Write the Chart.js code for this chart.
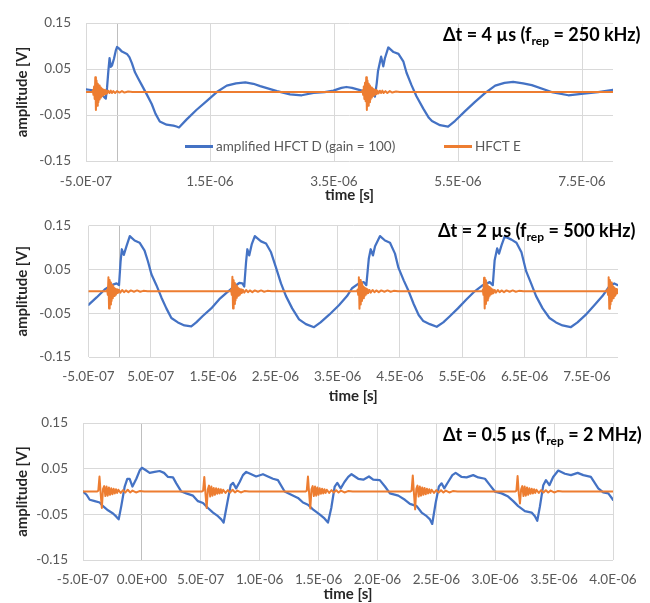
<!DOCTYPE html>
<html><head><meta charset="utf-8">
<script src="https://cdn.jsdelivr.net/npm/chart.js@4.4.1/dist/chart.umd.min.js"></script>
<style>
body{margin:0;background:#fff;}
#wrap{position:relative;width:650px;height:603px;overflow:hidden;font-family:Lato,"Liberation Sans",sans-serif;}
canvas{position:absolute;left:0;}
.ann{position:absolute;font-weight:bold;font-size:18px;line-height:20px;white-space:nowrap;color:#000;}
.ann sub{font-size:12px;vertical-align:-4px;line-height:0;}
.leg{position:absolute;font-size:13.5px;color:#595959;white-space:nowrap;line-height:16px;}
.leg span{display:inline-block;width:28px;height:2.5px;vertical-align:middle;margin-right:3px;position:relative;top:-1px;}
</style>
</head><body>
<div id="wrap">
<canvas id="c1" width="650" height="205" style="top:0px"></canvas>
<canvas id="c2" width="650" height="205" style="top:200px"></canvas>
<canvas id="c3" width="650" height="203" style="top:400px"></canvas>
<div class="ann" style="left:443px;top:24px">Δt = 4 µs (f<sub>rep</sub> = 250 kHz)</div>
<div class="ann" style="left:438px;top:220px">Δt = 2 µs (f<sub>rep</sub> = 500 kHz)</div>
<div class="ann" style="left:443px;top:424px">Δt = 0.5 µs (f<sub>rep</sub> = 2 MHz)</div>
<div class="leg" style="left:185px;top:138px"><span style="background:#4472C4"></span>amplified HFCT D (gain = 100)</div>
<div class="leg" style="left:444px;top:138px"><span style="background:#ED7D31"></span>HFCT E</div>
</div>
<script>
// ---- data: time in microseconds, amplitude in volts ----
const seriesNames = ["amplified HFCT D (gain = 100)", "HFCT E"];
const yTicks = [-0.15, -0.05, 0.05, 0.15];
const yLabels = ["-0.15", "-0.05", "0.05", "0.15"];

const xTicks1 = [-0.5, 0, 1.5, 3.5, 5.5, 7.5];
const xLabels1 = ["-5.0E-07", "", "1.5E-06", "3.5E-06", "5.5E-06", "7.5E-06"];
const xTicks2 = [-0.5, 0, 0.5, 1.5, 2.5, 3.5, 4.5, 5.5, 6.5, 7.5];
const xLabels2 = ["-5.0E-07", "", "5.0E-07", "1.5E-06", "2.5E-06", "3.5E-06", "4.5E-06", "5.5E-06", "6.5E-06", "7.5E-06"];
const xTicks3 = [-0.5, 0, 0.5, 1.0, 1.5, 2.0, 2.5, 3.0, 3.5, 4.0];
const xLabels3 = ["-5.0E-07", "0.0E+00", "5.0E-07", "1.0E-06", "1.5E-06", "2.0E-06", "2.5E-06", "3.0E-06", "3.5E-06", "4.0E-06"];

const blue1 = [[-0.5,0.006],[-0.45,0.005],[-0.36,0.003],[-0.25,-0.005],[-0.2,-0.012],[-0.18,-0.014],[-0.16,0.010],[-0.14,0.045],[-0.12,0.074],[-0.1,0.055],[-0.08,0.058],[-0.05,0.072],[-0.02,0.090],[0,0.098],[0.03,0.095],[0.08,0.088],[0.16,0.083],[0.2,0.076],[0.24,0.063],[0.29,0.043],[0.34,0.030],[0.4,0.015],[0.48,-0.005],[0.56,-0.026],[0.62,-0.047],[0.69,-0.064],[0.8,-0.071],[0.91,-0.073],[0.96,-0.075],[1.0,-0.077],[1.12,-0.060],[1.28,-0.039],[1.45,-0.019],[1.61,0.0],[1.77,0.014],[1.92,0.019],[2.07,0.021],[2.2,0.018],[2.31,0.013],[2.58,0.002],[2.79,-0.005],[2.98,-0.007],[3.17,-0.002],[3.35,0.0],[3.49,0.003],[3.62,0.009],[3.7,0.011],[3.79,0.009],[3.95,0.003],[4.11,-0.002],[4.14,-0.006],[4.16,-0.010],[4.19,0.020],[4.21,0.046],[4.26,0.077],[4.295,0.056],[4.32,0.073],[4.376,0.097],[4.46,0.087],[4.54,0.083],[4.62,0.066],[4.67,0.042],[4.75,0.015],[4.83,-0.009],[4.94,-0.036],[5.03,-0.056],[5.08,-0.063],[5.21,-0.072],[5.34,-0.075],[5.45,-0.063],[5.61,-0.042],[5.77,-0.022],[5.94,-0.002],[6.1,0.014],[6.25,0.020],[6.39,0.022],[6.55,0.019],[6.69,0.015],[7.01,0.0],[7.28,-0.007],[7.49,-0.004],[7.76,0.0],[8.0,0.005]];

const orange1 = [[-0.5,0],[-0.4,0],[-0.39,0.004],[-0.38,-0.006],[-0.37,0.012],[-0.36,-0.015],[-0.35,0.032],[-0.34,-0.039],[-0.33,0.025],[-0.32,-0.030],[-0.31,0.018],[-0.3,-0.022],[-0.29,0.014],[-0.28,-0.016],[-0.27,0.010],[-0.26,-0.012],[-0.25,0.008],[-0.24,-0.008],[-0.23,0.006],[-0.22,-0.006],[-0.21,0.005],[-0.2,-0.005],[-0.19,0.004],[-0.18,-0.004],[-0.17,0.003],[-0.16,-0.003],[-0.14,0.003],[-0.12,-0.002],[-0.1,0.003],[-0.08,-0.002],[-0.06,0.002],[-0.03,-0.002],[0,0.002],[0.04,-0.001],[0.08,0.002],[0.12,-0.001],[0.18,0.001],[0.25,0],[3.95,0],[3.96,0.004],[3.97,-0.006],[3.98,0.012],[3.99,-0.015],[4.0,0.020],[4.01,-0.020],[4.02,0.032],[4.03,-0.039],[4.04,0.025],[4.05,-0.030],[4.06,0.018],[4.07,-0.022],[4.08,0.014],[4.09,-0.016],[4.1,0.010],[4.11,-0.012],[4.12,0.008],[4.13,-0.008],[4.14,0.006],[4.15,-0.006],[4.16,0.005],[4.17,-0.005],[4.18,0.004],[4.19,-0.004],[4.2,0.003],[4.22,-0.003],[4.24,0.003],[4.26,-0.002],[4.28,0.003],[4.3,-0.002],[4.33,0.002],[4.36,-0.002],[4.4,0.002],[4.44,-0.001],[4.5,0.001],[4.56,0],[8.0,0]];

const blue2 = [[-0.5,-0.031],[-0.37,-0.014],[-0.24,0.004],[-0.13,0.014],[-0.05,0.018],[-0.01,0.014],[0.015,0.068],[0.035,0.096],[0.067,0.083],[0.11,0.103],[0.163,0.126],[0.24,0.116],[0.32,0.111],[0.4,0.093],[0.455,0.068],[0.51,0.039],[0.59,0.014],[0.67,-0.014],[0.75,-0.039],[0.83,-0.061],[0.935,-0.071],[1.04,-0.078],[1.15,-0.080],[1.23,-0.071],[1.33,-0.057],[1.47,-0.039],[1.6,-0.018],[1.71,-0.004],[1.84,0.011],[1.92,0.019],[1.97,0.018],[2.0,0.011],[2.03,0.068],[2.05,0.096],[2.08,0.082],[2.12,0.107],[2.17,0.126],[2.27,0.114],[2.35,0.109],[2.43,0.089],[2.51,0.054],[2.59,0.018],[2.67,-0.011],[2.77,-0.039],[2.88,-0.064],[2.99,-0.075],[3.12,-0.082],[3.225,-0.071],[3.36,-0.054],[3.52,-0.032],[3.65,-0.011],[3.73,0.007],[3.84,0.018],[3.92,0.021],[3.96,0.014],[4.0,0.075],[4.03,0.096],[4.066,0.082],[4.1,0.103],[4.18,0.126],[4.26,0.116],[4.34,0.111],[4.42,0.086],[4.475,0.054],[4.56,0.025],[4.64,0.0],[4.72,-0.029],[4.8,-0.054],[4.875,-0.068],[4.98,-0.075],[5.09,-0.081],[5.195,-0.071],[5.3,-0.057],[5.43,-0.039],[5.57,-0.018],[5.7,0.0],[5.83,0.014],[5.94,0.021],[5.99,0.014],[6.02,0.071],[6.06,0.098],[6.09,0.086],[6.13,0.105],[6.18,0.125],[6.29,0.118],[6.37,0.111],[6.45,0.089],[6.525,0.046],[6.605,0.018],[6.685,-0.011],[6.79,-0.039],[6.9,-0.061],[7.005,-0.071],[7.11,-0.078],[7.24,-0.082],[7.35,-0.071],[7.48,-0.054],[7.62,-0.032],[7.75,-0.011],[7.86,0.011],[7.94,0.018],[8.0,0.014]];

const orange2 = [[-0.5,0],[-0.21,0],[-0.2,0.004],[-0.19,-0.008],[-0.18,0.032],[-0.17,-0.039],[-0.16,0.026],[-0.15,-0.030],[-0.14,0.020],[-0.13,-0.022],[-0.12,0.014],[-0.11,-0.016],[-0.1,0.010],[-0.09,-0.011],[-0.08,0.007],[-0.07,-0.008],[-0.06,0.005],[-0.05,-0.005],[-0.04,0.004],[-0.03,-0.004],[-0.01,0.003],[0.01,-0.003],[0.04,0.003],[0.07,-0.002],[0.1,0.002],[0.14,-0.002],[0.18,0.002],[0.23,-0.001],[0.28,0.002],[0.33,-0.001],[0.38,0.001],[0.45,0],[1.78,0],[1.79,0.004],[1.8,-0.008],[1.81,0.033],[1.82,-0.039],[1.83,0.025],[1.84,-0.029],[1.85,0.019],[1.86,-0.021],[1.87,0.013],[1.88,-0.015],[1.89,0.010],[1.9,-0.010],[1.91,0.007],[1.92,-0.008],[1.93,0.005],[1.94,-0.005],[1.95,0.004],[1.96,-0.004],[1.98,0.003],[2.0,-0.003],[2.03,0.003],[2.06,-0.002],[2.09,0.002],[2.13,-0.002],[2.17,0.002],[2.22,-0.001],[2.27,0.002],[2.32,-0.001],[2.37,0.001],[2.44,0],[3.81,0],[3.82,0.004],[3.83,-0.008],[3.84,0.032],[3.85,-0.040],[3.86,0.026],[3.87,-0.030],[3.88,0.020],[3.89,-0.022],[3.9,0.014],[3.91,-0.016],[3.92,0.010],[3.93,-0.011],[3.94,0.007],[3.95,-0.008],[3.96,0.005],[3.97,-0.005],[3.98,0.004],[3.99,-0.004],[4.01,0.003],[4.03,-0.003],[4.06,0.003],[4.09,-0.002],[4.12,0.002],[4.16,-0.002],[4.2,0.002],[4.25,-0.001],[4.3,0.002],[4.35,-0.001],[4.4,0.001],[4.47,0],[5.82,0],[5.83,0.004],[5.84,-0.008],[5.85,0.031],[5.86,-0.039],[5.87,0.025],[5.88,-0.029],[5.89,0.019],[5.9,-0.021],[5.91,0.013],[5.92,-0.015],[5.93,0.010],[5.94,-0.010],[5.95,0.007],[5.96,-0.007],[5.97,0.005],[5.98,-0.005],[5.99,0.004],[6.0,-0.004],[6.02,0.003],[6.04,-0.003],[6.07,0.003],[6.1,-0.002],[6.13,0.002],[6.17,-0.002],[6.21,0.002],[6.26,-0.001],[6.31,0.002],[6.36,-0.001],[6.41,0.001],[6.48,0],[7.82,0],[7.83,0.004],[7.84,-0.008],[7.85,0.032],[7.86,-0.040],[7.87,0.026],[7.88,-0.030],[7.89,0.020],[7.9,-0.022],[7.91,0.014],[7.92,-0.016],[7.93,0.010],[7.94,-0.011],[7.95,0.007],[7.96,-0.008],[7.97,0.005],[7.98,-0.005],[7.99,0.004],[8.0,-0.004]];

const blue3 = [[-0.5,0.0],[-0.47,-0.007],[-0.443,-0.018],[-0.4,-0.021],[-0.358,-0.024],[-0.33,-0.032],[-0.288,-0.041],[-0.245,-0.048],[-0.217,-0.055],[-0.197,-0.061],[-0.175,-0.032],[-0.146,0.011],[-0.124,0.028],[-0.104,0.028],[-0.08,0.011],[-0.047,0.028],[-0.019,0.046],[0.0,0.052],[0.037,0.046],[0.066,0.041],[0.108,0.043],[0.151,0.045],[0.188,0.041],[0.222,0.032],[0.264,0.031],[0.292,0.018],[0.335,0.0],[0.377,-0.004],[0.434,-0.009],[0.476,-0.021],[0.519,-0.025],[0.561,-0.036],[0.604,-0.046],[0.646,-0.054],[0.674,-0.061],[0.694,-0.068],[0.725,-0.025],[0.754,0.014],[0.774,0.019],[0.8,0.007],[0.83,0.021],[0.858,0.036],[0.886,0.043],[0.929,0.038],[0.97,0.033],[1.028,0.038],[1.07,0.033],[1.113,0.028],[1.155,0.025],[1.212,0.0],[1.268,-0.007],[1.325,-0.014],[1.368,-0.024],[1.41,-0.029],[1.452,-0.039],[1.509,-0.050],[1.55,-0.059],[1.58,-0.068],[1.608,-0.036],[1.637,0.011],[1.659,0.019],[1.688,0.007],[1.72,0.021],[1.752,0.032],[1.78,0.038],[1.837,0.028],[1.88,0.026],[1.928,0.033],[1.964,0.026],[2.02,0.025],[2.064,0.011],[2.106,-0.004],[2.177,-0.009],[2.233,-0.018],[2.276,-0.027],[2.333,-0.032],[2.375,-0.046],[2.418,-0.054],[2.446,-0.061],[2.465,-0.071],[2.494,-0.025],[2.522,0.011],[2.545,0.018],[2.567,0.007],[2.6,0.021],[2.636,0.036],[2.664,0.041],[2.715,0.032],[2.757,0.031],[2.813,0.036],[2.856,0.031],[2.913,0.028],[2.955,0.014],[2.997,0.0],[3.054,-0.004],[3.11,-0.011],[3.153,-0.021],[3.195,-0.032],[3.252,-0.043],[3.309,-0.046],[3.337,-0.054],[3.357,-0.064],[3.38,-0.032],[3.408,0.014],[3.431,0.025],[3.46,0.014],[3.492,0.032],[3.535,0.046],[3.592,0.039],[3.643,0.036],[3.7,0.041],[3.748,0.036],[3.812,0.032],[3.875,0.007],[3.917,-0.002],[3.96,-0.004],[4.0,-0.018]];

const orange3 = [[-0.5,0],[-0.38,0],[-0.37,0.002],[-0.36,0.033],[-0.35,-0.004],[-0.34,-0.036],[-0.33,0.006],[-0.32,0.012],[-0.31,-0.010],[-0.3,0.011],[-0.29,-0.009],[-0.28,0.009],[-0.27,-0.007],[-0.26,0.007],[-0.25,-0.006],[-0.24,0.006],[-0.23,-0.004],[-0.22,0.005],[-0.21,-0.003],[-0.2,0.004],[-0.18,-0.003],[-0.16,0.003],[-0.14,-0.002],[-0.12,0.004],[-0.1,-0.002],[-0.08,0.002],[-0.05,-0.002],[-0.02,0.001],[0.02,0],[0.51,0],[0.52,0.002],[0.53,0.032],[0.54,-0.005],[0.55,-0.036],[0.56,0.005],[0.57,0.013],[0.58,-0.011],[0.59,0.011],[0.6,-0.009],[0.61,0.008],[0.62,-0.007],[0.63,0.007],[0.64,-0.005],[0.65,0.006],[0.66,-0.004],[0.67,0.005],[0.68,-0.003],[0.69,0.004],[0.71,-0.003],[0.73,0.003],[0.75,-0.002],[0.77,0.004],[0.79,-0.002],[0.81,0.002],[0.84,-0.002],[0.87,0.001],[0.91,0],[1.39,0],[1.4,0.002],[1.41,0.033],[1.42,-0.004],[1.43,-0.037],[1.44,0.005],[1.45,0.012],[1.46,-0.010],[1.47,0.011],[1.48,-0.009],[1.49,0.009],[1.5,-0.007],[1.51,0.007],[1.52,-0.005],[1.53,0.006],[1.54,-0.004],[1.55,0.005],[1.56,-0.003],[1.57,0.004],[1.59,-0.003],[1.61,0.003],[1.63,-0.002],[1.65,0.003],[1.67,-0.002],[1.69,0.002],[1.72,-0.002],[1.75,0.001],[1.79,0],[2.28,0],[2.29,0.002],[2.3,0.035],[2.31,-0.004],[2.32,-0.039],[2.33,0.006],[2.34,0.013],[2.35,-0.011],[2.36,0.011],[2.37,-0.009],[2.38,0.009],[2.39,-0.007],[2.4,0.008],[2.41,-0.006],[2.42,0.006],[2.43,-0.004],[2.44,0.005],[2.45,-0.003],[2.46,0.004],[2.48,-0.003],[2.5,0.003],[2.52,-0.002],[2.54,0.003],[2.56,-0.002],[2.58,0.002],[2.61,-0.002],[2.64,0.001],[2.68,0],[3.17,0],[3.18,0.002],[3.19,0.034],[3.2,-0.004],[3.21,-0.026],[3.22,0.005],[3.23,0.012],[3.24,-0.010],[3.25,0.011],[3.26,-0.009],[3.27,0.009],[3.28,-0.007],[3.29,0.007],[3.3,-0.005],[3.31,0.006],[3.32,-0.004],[3.33,0.005],[3.34,-0.003],[3.35,0.004],[3.37,-0.003],[3.39,0.003],[3.41,-0.002],[3.43,0.003],[3.45,-0.002],[3.47,0.002],[3.5,-0.002],[3.53,0.001],[3.57,0],[4.0,0]];

// ---- rendering ----
const FONT = 'Lato, "Liberation Sans", sans-serif';
const BLUE = '#4472C4', ORANGE = '#ED7D31';
const toXY = arr => arr.map(p => ({x: p[0], y: p[1]}));

function makeChart(id, cfg) {
  const ds = [
    {label: seriesNames[1], data: toXY(cfg.orange), borderColor: ORANGE, borderWidth: 2, pointRadius: 0, tension: 0, borderJoinStyle: 'round', borderCapStyle: 'round'},
    {label: seriesNames[0], data: toXY(cfg.blue), borderColor: BLUE, borderWidth: 2.25, pointRadius: 0, tension: 0, borderJoinStyle: 'round', borderCapStyle: 'round'}
  ];
  return new Chart(document.getElementById(id), {
    type: 'line',
    data: {datasets: ds},
    options: {
      responsive: false, animation: false, events: [],
      layout: {padding: {top: cfg.top, right: cfg.right, bottom: 0, left: 0}},
      plugins: {legend: {display: false}, tooltip: {enabled: false}},
      scales: {
        x: {
          type: 'linear', min: cfg.xMin, max: cfg.xMax,
          afterFit: s => { s.height = cfg.xH; },
          afterBuildTicks: s => { s.ticks = cfg.xTicks.map(v => ({value: v})); },
          ticks: {autoSkip: false, maxRotation: 0, minRotation: 0, padding: cfg.xPad, color: '#595959',
            font: {family: FONT, size: 13.5},
            callback: (v, i) => cfg.xLabels[i]},
          grid: {drawTicks: false, lineWidth: 1, color: c => (c.tick && c.tick.value === 0) ? '#bfbfbf' : '#d9d9d9'},
          border: {display: false},
          title: {display: true, text: 'time [s]', color: '#262626', font: {family: FONT, size: 15, weight: 'bold'}, padding: {top: 0, bottom: cfg.xTitlePad}}
        },
        y: {
          min: -0.15, max: 0.15,
          afterFit: s => { s.width = cfg.yW; },
          afterBuildTicks: s => { s.ticks = yTicks.map(v => ({value: v})); },
          ticks: {padding: cfg.yPad, color: '#595959', font: {family: FONT, size: 13.5},
            callback: (v, i) => yLabels[i]},
          grid: {drawTicks: false, lineWidth: 1, color: '#d9d9d9'},
          border: {display: false},
          title: {display: true, text: 'amplitude [V]', color: '#262626', font: {family: FONT, size: 15, weight: 'bold'}, padding: {top: 13, bottom: 0}}
        }
      }
    }
  });
}

makeChart('c1', {blue: blue1, orange: orange1, xMin: -0.5, xMax: 8.0, xTicks: xTicks1, xLabels: xLabels1,
  top: 14, right: 37, xH: 44, xPad: 13, xTitlePad: 1, yW: 86, yPad: 15});
makeChart('c2', {blue: blue2, orange: orange2, xMin: -0.5, xMax: 8.0, xTicks: xTicks2, xLabels: xLabels2,
  top: 17, right: 32, xH: 48, xPad: 12, xTitlePad: 0, yW: 88.5, yPad: 17.5});
makeChart('c3', {blue: blue3, orange: orange3, xMin: -0.5, xMax: 4.0, xTicks: xTicks3, xLabels: xLabels3,
  top: 17, right: 37, xH: 43, xPad: 12, xTitlePad: 0, yW: 83, yPad: 15});
</script>
</body></html>
